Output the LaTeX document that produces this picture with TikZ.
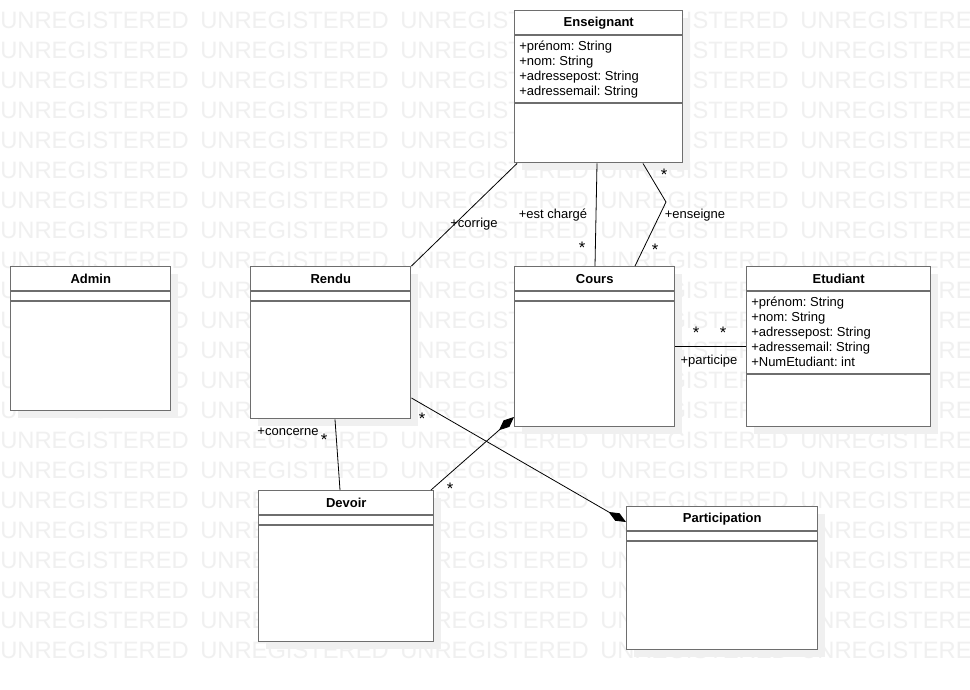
\documentclass[tikz,border=0pt]{standalone}
\usepackage{fontspec}
\setmainfont{Liberation Sans}
\usetikzlibrary{calc,shadows,arrows.meta}
\definecolor{wm}{HTML}{F0F0F0}
\definecolor{bord}{HTML}{6E6E6E}
\definecolor{shad}{HTML}{F0F0F0}
\frenchspacing
\begin{document}
\begin{tikzpicture}[x=0.75pt,y=-0.75pt,
  cls/.style={draw=bord,line width=1.1pt,fill=white,anchor=north west,inner sep=0pt,
    drop shadow={shadow xshift=5.25pt,shadow yshift=-5.25pt,fill=shad,opacity=1}},
  cline/.style={draw=bord,line width=1.1pt},
  ttl/.style={font=\bfseries\fontsize{9.75}{11}\selectfont,inner sep=0pt},
  attr/.style={font=\fontsize{9.75}{11.25}\selectfont,anchor=north west,inner sep=0pt,align=left},
  lbl/.style={font=\fontsize{9.75}{11}\selectfont,inner sep=0pt},
  mult/.style={font=\fontsize{12.5}{13}\selectfont,inner sep=0pt},
  conn/.style={draw=black,line width=0.6pt},
  comp/.style={conn,-{Diamond[length=15pt,width=6.5pt,fill=black]}},
  wmk/.style={font=\fontsize{17.8}{18}\selectfont,text=wm,anchor=base west,inner sep=0pt}]
\useasboundingbox (0,0) rectangle (970,689);
\fill[white] (0,0) rectangle (970,689);
% watermark
\begin{scope}
\clip (0,0) rectangle (970,689);
\foreach \r in {0,...,21}{
  \foreach \c in {0,...,4}{
    \node[wmk] (wm-\r-\c) at ({\c*200},{28.5+\r*30}) {UNREGISTERED};
  }
}
\end{scope}
% classes
\node[cls,minimum width=126pt,minimum height=114pt] (ens) at (514,10) {};
\node[cls,minimum width=120pt,minimum height=108pt] (admin) at (10,266) {};
\node[cls,minimum width=120pt,minimum height=114pt] (rendu) at (250,266) {};
\node[cls,minimum width=120pt,minimum height=120pt] (cours) at (514,266) {};
\node[cls,minimum width=138pt,minimum height=120pt] (etud) at (746,266) {};
\node[cls,minimum width=131.25pt,minimum height=113.25pt] (dev) at (258,490) {};
\node[cls,minimum width=143.25pt,minimum height=107.25pt] (part) at (626,506) {};
% compartments
\draw[cline] ($(ens.north west)+(0,25)$) -- ($(ens.north east)+(0,25)$);
\draw[cline] ($(ens.north west)+(0,93)$) -- ($(ens.north east)+(0,93)$);
\foreach \n in {admin,rendu,cours,dev,part}{
  \draw[cline] ($(\n.north west)+(0,25)$) -- ($(\n.north east)+(0,25)$);
  \draw[cline] ($(\n.north west)+(0,35)$) -- ($(\n.north east)+(0,35)$);
}
\draw[cline] ($(etud.north west)+(0,25)$) -- ($(etud.north east)+(0,25)$);
\draw[cline] ($(etud.north west)+(0,108)$) -- ($(etud.north east)+(0,108)$);
% titles
\node[ttl] (t-ens) at ($(ens.north)+(0,13)$) {Enseignant};
\node[ttl] (t-admin) at ($(admin.north)+(0,13)$) {Admin};
\node[ttl] (t-rendu) at ($(rendu.north)+(0,13)$) {Rendu};
\node[ttl] (t-cours) at ($(cours.north)+(0,13)$) {Cours};
\node[ttl] (t-etud) at ($(etud.north)+(0,13)$) {Etudiant};
\node[ttl] (t-dev) at ($(dev.north)+(0,13)$) {Devoir};
\node[ttl] (t-part) at ($(part.north)+(0,13)$) {Participation};
% attributes
\node[attr] (a-ens) at ($(ens.north west)+(5,31)$) {+prénom: String\\+nom: String\\+adressepost: String\\+adressemail: String};
\node[attr] (a-etud) at ($(etud.north west)+(5,31)$) {+prénom: String\\+nom: String\\+adressepost: String\\+adressemail: String\\+NumEtudiant: int};
% connectors
\draw[conn] ($(ens.south west)+(3,0)$) -- (rendu.north east);
\draw[conn] ($(ens.south west)+(83,0)$) -- ($(cours.north west)+(81,0)$);
\coordinate (bend) at (666,202);
\draw[conn] ($(ens.south west)+(129,0)$) -- (bend) -- ($(cours.north west)+(121,0)$);
\draw[conn] ($(cours.north east)+(0,80)$) -- ($(etud.north west)+(0,80)$);
\draw[conn] ($(rendu.south west)+(85,0)$) -- ($(dev.north west)+(82,0)$);
\draw[comp] ($(dev.north west)+(173,0)$) -- ($(cours.north west)+(0,151)$);
\draw[comp] ($(rendu.north east)+(0,132)$) -- ($(part.north west)+(0,16)$);
% labels
\node[lbl] (l-corrige) at (474,224) {+corrige};
\node[lbl] (l-charge) at (553,215) {+est chargé};
\node[lbl] (l-enseigne) at (695,215) {+enseigne};
\node[lbl] (l-participe) at (709,361) {+participe};
\node[lbl] (l-concerne) at (288,432) {+concerne};
% multiplicities
\node[mult] (m1) at (582,248) {*};
\node[mult] (m2) at (664,175) {*};
\node[mult] (m3) at (655,250) {*};
\node[mult] (m4) at (696,333) {*};
\node[mult] (m5) at (723,333) {*};
\node[mult] (m6) at (324,440) {*};
\node[mult] (m7) at (422,419) {*};
\node[mult] (m8) at (450,489) {*};
\end{tikzpicture}
\end{document}
